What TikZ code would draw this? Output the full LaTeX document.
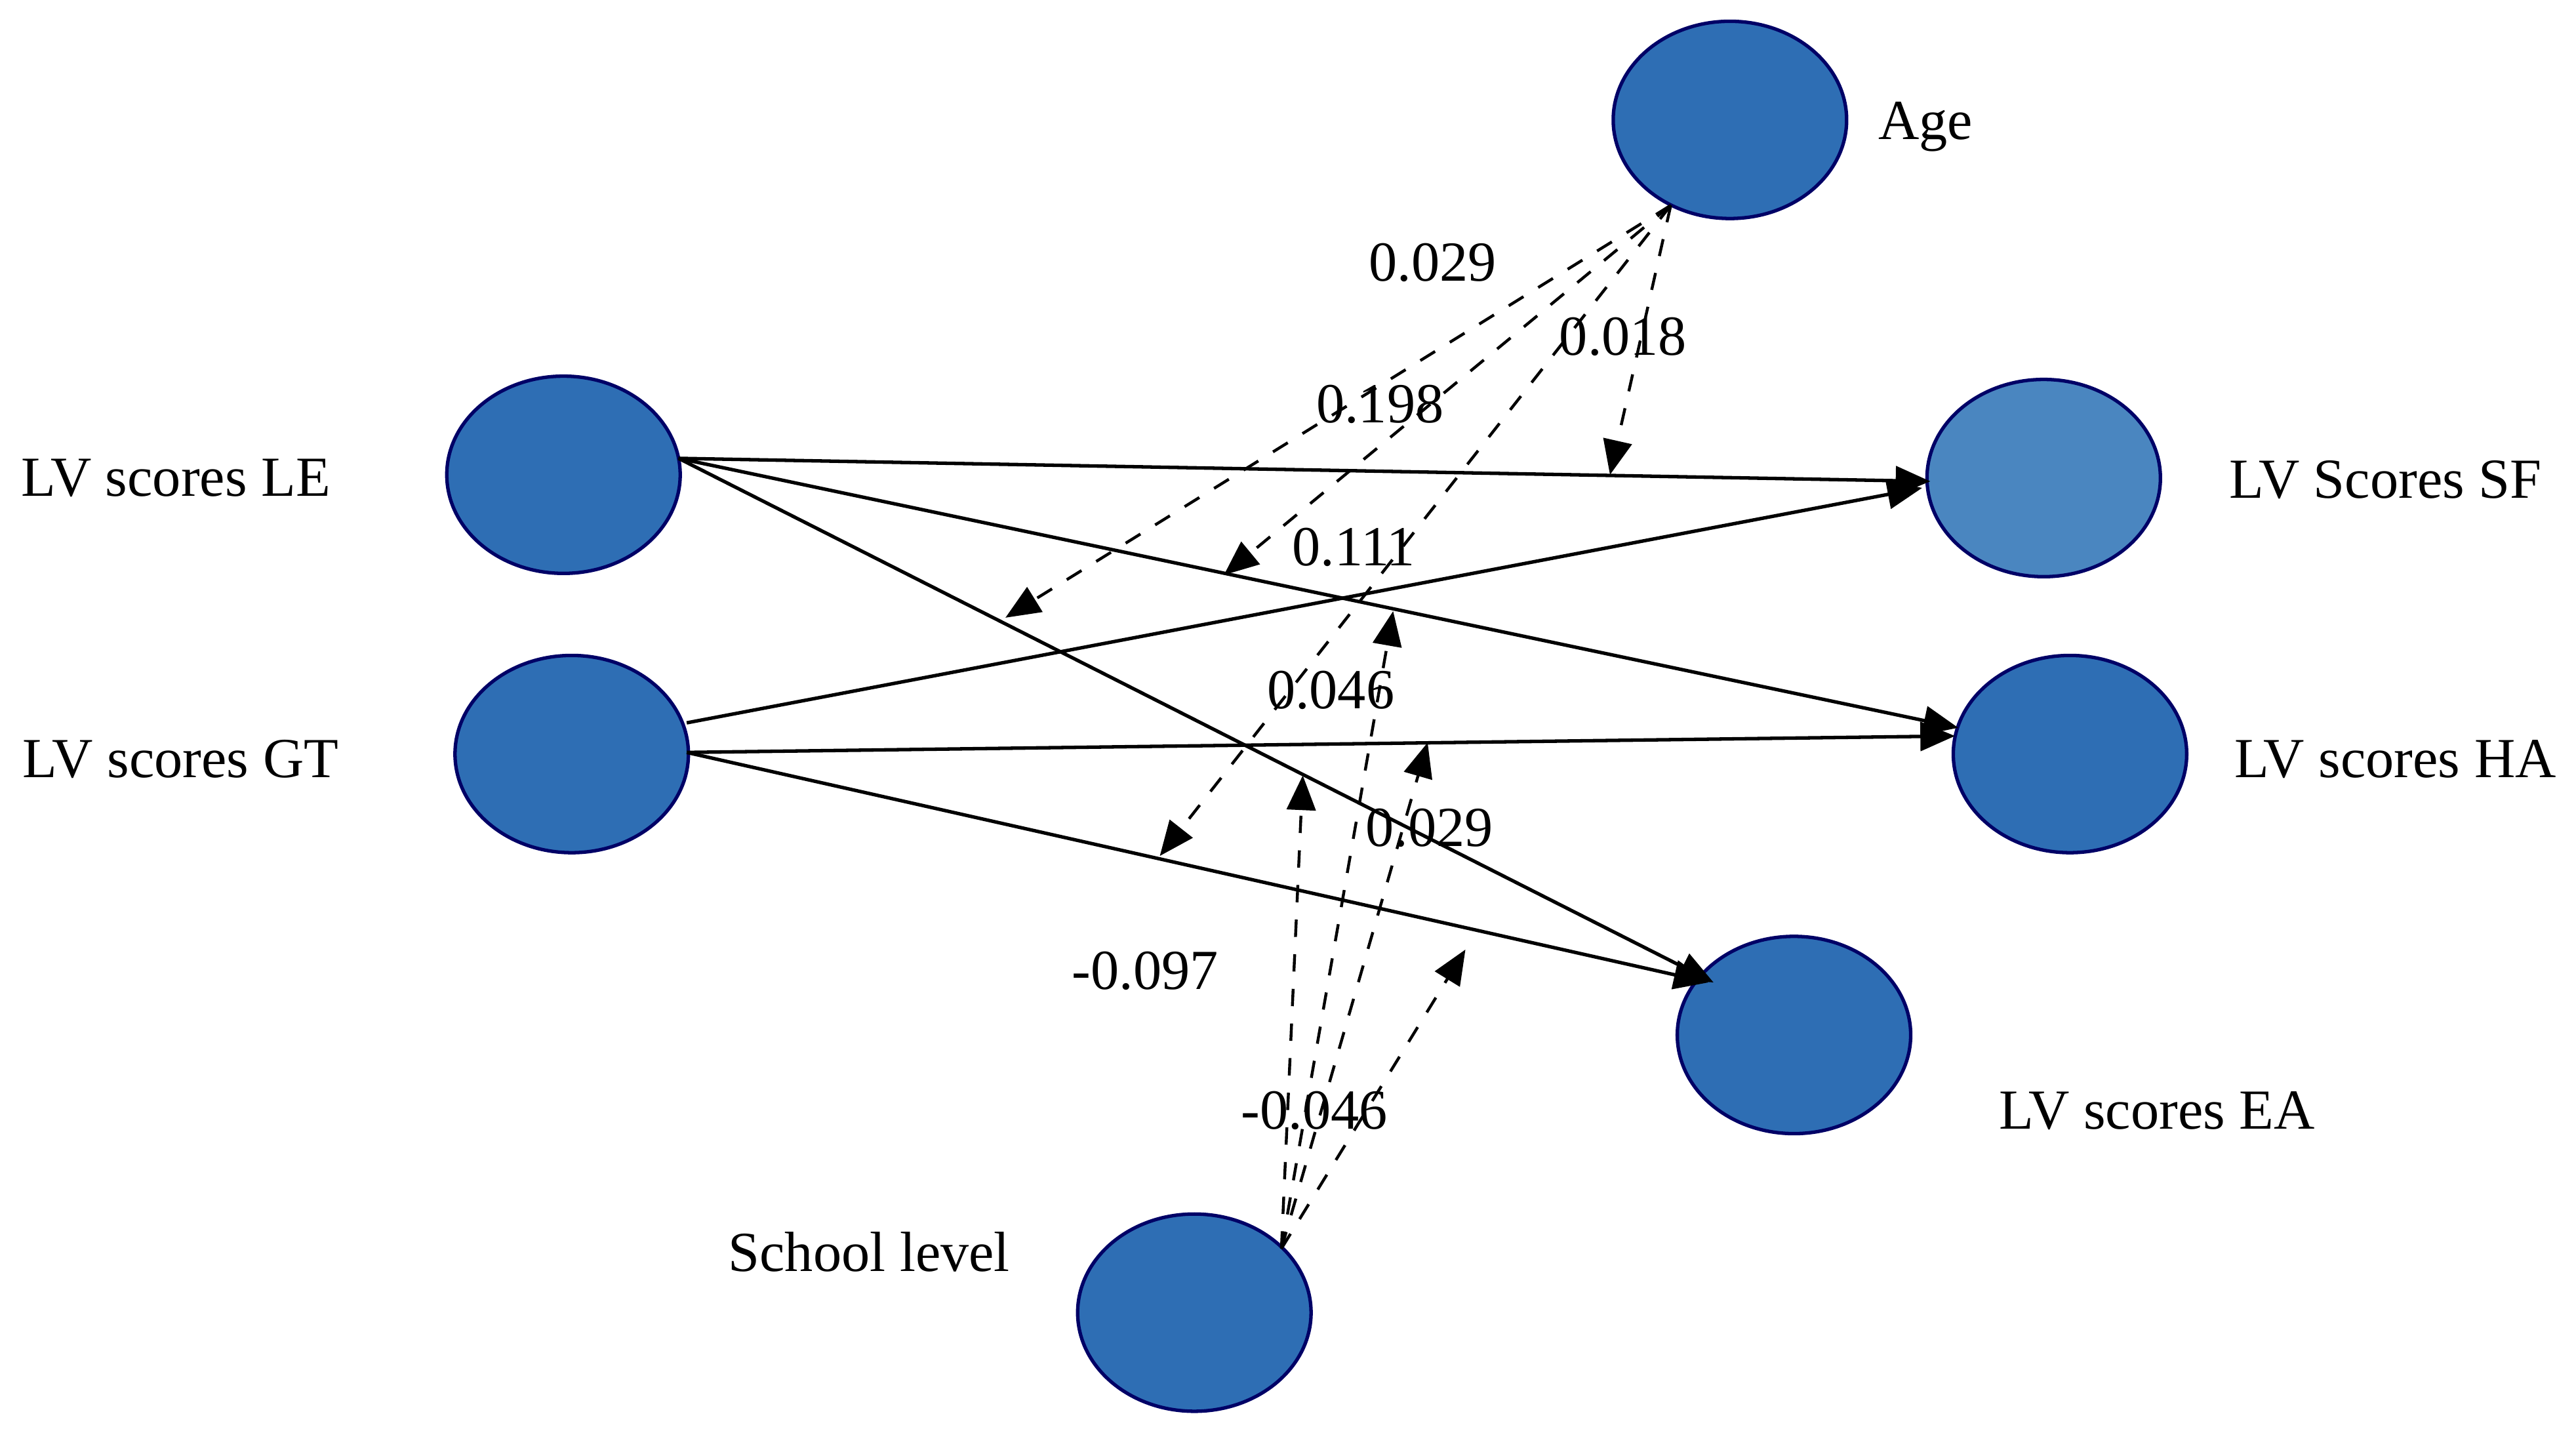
\documentclass[tikz,border=0pt]{standalone}
\usepackage{fontspec}
\setmainfont{Liberation Serif}
\usetikzlibrary{arrows.meta,shapes.geometric}
\begin{document}
\begin{tikzpicture}[x=0.01cm,y=-0.01cm,
 lv/.style={ellipse,draw=blue!40!black,fill={rgb,255:red,46;green,110;blue,180},minimum width=1.42cm,minimum height=1.2cm,inner sep=0,line width=0.6pt},
 lbl/.style={font=\fontsize{9.8}{11}\selectfont,inner sep=0},
 sol/.style={-{Triangle[length=6pt,width=5pt]},line width=0.6pt},
 dsh/.style={-{Triangle[length=6pt,width=5pt]},dashed,line width=0.5pt}]
\useasboundingbox (0,0) rectangle (1568,871);
\node[lv] (age) at (1053,73) {};
\node[lv] (le) at (343,289) {};
\node[lv] (gt) at (348,459) {};
\node[lv,fill={rgb,255:red,74;green,134;blue,192}] (sf) at (1244,291) {};
\node[lv] (ha) at (1260,459) {};
\node[lv] (ea) at (1092,630) {};
\node[lv] (sch) at (727,799) {};
\node[lbl] (tage) at (1172,77) {Age};
\node[lbl] (tle) at (107,291) {LV scores LE};
\node[lbl] (tgt) at (110,462) {LV scores GT};
\node[lbl] (tsf) at (1452,292) {LV Scores SF};
\node[lbl] (tha) at (1458,462) {LV scores HA};
\node[lbl] (tea) at (1313,676) {LV scores EA};
\node[lbl] (tsch) at (529,762) {School level};
\coordinate (leo) at (413,279); \coordinate (gto) at (418,458);
\coordinate (gto2) at (418,440);
\draw[sol] (leo) -- (1175,293);
\draw[sol] (leo) -- (1192,443);
\draw[sol] (leo) -- (1043,598);
\draw[sol] (gto2) -- (1170,297);
\draw[sol] (gto) -- (1190,448);
\draw[sol] (gto) -- (1040,598);
\coordinate (aS) at (1017,125); \coordinate (sS) at (780,760);
\coordinate (a1) at (612,376); \coordinate (a2) at (745,350);
\coordinate (a3) at (706,521); \coordinate (a4) at (980,289);
\coordinate (s1) at (793,472); \coordinate (s2) at (848,372);
\coordinate (s3) at (869,452); \coordinate (s4) at (892,578);
\foreach \p in {a1,a2,a3,a4} \draw[dsh] (aS) -- (\p);
\foreach \p in {s1,s2,s3,s4} \draw[dsh] (sS) -- (\p);
\node[lbl] (l1) at (872,160) {0.029};
\node[lbl] (l2) at (988,205) {0.018};
\node[lbl] (l3) at (840,246) {0.198};
\node[lbl] (l4) at (824,333) {0.111};
\node[lbl] (l5) at (810,420) {0.046};
\node[lbl] (l6) at (870,504) {0.029};
\node[lbl] (l7) at (697,591) {-0.097};
\node[lbl] (l8) at (800,676) {-0.046};
\end{tikzpicture}
\end{document}
